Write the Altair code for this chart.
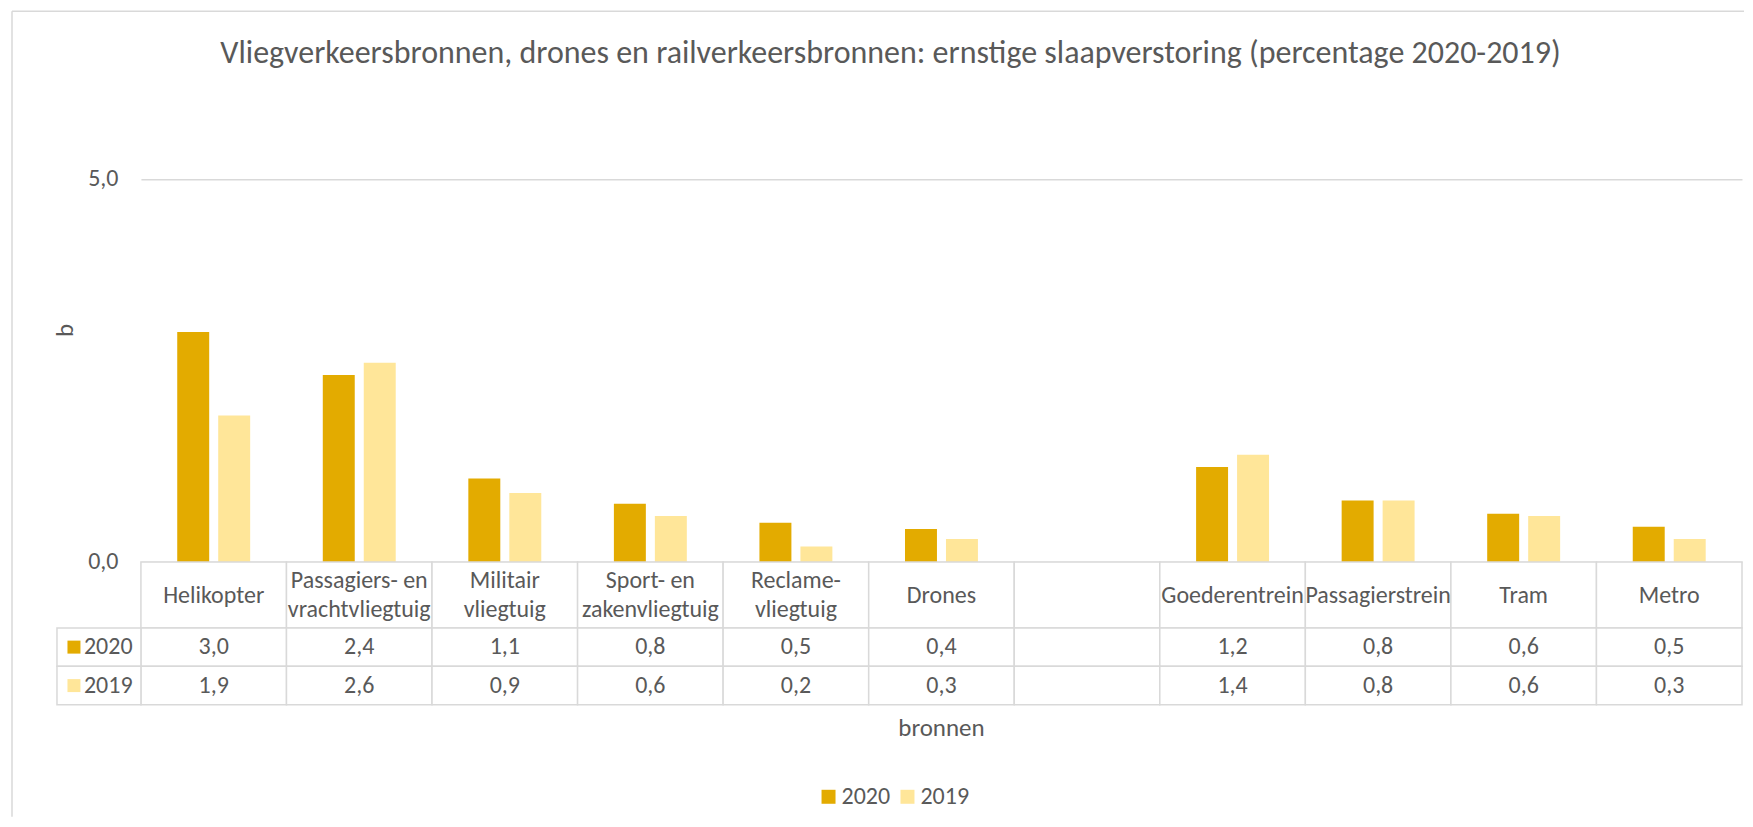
import altair as alt
import pandas as pd

# ---------------- data ----------------
CATEGORIES = ["Helikopter", "Passagiers- en\nvrachtvliegtuig", "Militair\nvliegtuig",
              "Sport- en\nzakenvliegtuig", "Reclame-\nvliegtuig", "Drones", " ",
              "Goederentrein", "Passagierstrein", "Tram", "Metro"]
YEARS = ["2020", "2019"]
VALUES_2020 = [3.0, 2.44, 1.09, 0.76, 0.51, 0.43, None, 1.24, 0.8, 0.63, 0.46]
VALUES_2019 = [1.91, 2.6, 0.9, 0.6, 0.2, 0.3, None, 1.4, 0.8, 0.6, 0.3]
COLORS = ["#E3AB00", "#FFE699"]
TITLE = "Vliegverkeersbronnen, drones en railverkeersbronnen: ernstige slaapverstoring (percentage 2020-2019)"
Y_TITLE = "b"
X_TITLE = "bronnen"
Y_TICKS = [0, 5]
Y_DOMAIN = [0, 6]

# ---------------- style ----------------
FONT = "Calibri, Carlito, Lato, sans-serif"
TXT = "#595959"
GRID = "#d9d9d9"
FS = 24
W = 1602
H_BARS = 460
H_HEAD = 66
H_ROWS = 77
LINE_H = 29

rows = []
for yr, vals in zip(YEARS, [VALUES_2020, VALUES_2019]):
    for c, v in zip(CATEGORIES, vals):
        rows.append({"category": c, "year": yr, "value": v})
df = pd.DataFrame(rows)
df_bars = df.dropna(subset=["value"])
cat_df = pd.DataFrame({"category": CATEGORIES})
year_df = pd.DataFrame({"year": YEARS})
one = pd.DataFrame({"t": [TITLE], "x": [X_TITLE]})

x_scale = alt.Scale(domain=CATEGORIES, paddingInner=0, paddingOuter=0)
color_scale = alt.Scale(domain=YEARS, range=COLORS)
x_enc = alt.X("category:N", scale=x_scale, axis=None, sort=CATEGORIES)

# ---------------- bars ----------------
bars = alt.Chart(df_bars).mark_bar().encode(
    x=x_enc,
    xOffset=alt.XOffset("year:N", sort=YEARS,
                        scale=alt.Scale(domain=YEARS, paddingInner=0.22, paddingOuter=0.886)),
    y=alt.Y("value:Q", scale=alt.Scale(domain=Y_DOMAIN),
            axis=alt.Axis(values=Y_TICKS, domain=False, ticks=False, grid=True,
                          gridColor=GRID, gridWidth=1.5,
                          labelExpr="replace(format(datum.value, '.1f'), '.', ',')",
                          labelFontSize=FS, labelColor=TXT, labelPadding=23, labelFont=FONT,
                          title=Y_TITLE, titleFontSize=25, titleColor=TXT, titleFont=FONT,
                          titleFontWeight="normal", titleX=-76, titleY=H_BARS / 2 - 2,
                          titleAlign="center", titleBaseline="middle", titleAngle=270)),
    color=alt.Color("year:N", scale=color_scale, sort=YEARS,
                    legend=alt.Legend(title=None, orient="none", direction="horizontal",
                                      legendX=676, legendY=683, symbolType="square",
                                      symbolSize=196, symbolStrokeWidth=0,
                                      labelFontSize=FS, labelColor=TXT, labelFont=FONT,
                                      labelOffset=1, columnPadding=5)),
)

title_mark = alt.Chart(one).mark_text(fontSize=32, color=TXT, font=FONT, align="center",
                                      baseline="middle").encode(
    text="t:N", x=alt.value(750), y=alt.value(-49))

frame_top = alt.Chart(one).mark_rule(color=GRID, strokeWidth=1.5).encode(
    x=alt.value(-129), x2=alt.value(1604), y=alt.value(-91))
frame_left = alt.Chart(one).mark_rule(color=GRID, strokeWidth=1.5).encode(
    x=alt.value(-129), y=alt.value(-91), y2=alt.value(715))

top = alt.layer(frame_top, frame_left, bars, title_mark).properties(width=W, height=H_BARS)

# ---------------- table header ----------------
head_rect = alt.Chart(cat_df).mark_rect(fill="white", stroke=GRID, strokeWidth=1.5).encode(
    x=x_enc, y=alt.value(0), y2=alt.value(H_HEAD))
head_text1 = alt.Chart(cat_df).transform_filter(
    "indexof(datum.category, '\\n') < 0"
).mark_text(fontSize=FS, color=TXT, font=FONT, baseline="middle").encode(
    x=x_enc, y=alt.value(H_HEAD / 2 + 1), text="category:N")
head_text2 = alt.Chart(cat_df).transform_filter(
    "indexof(datum.category, '\\n') >= 0"
).mark_text(fontSize=FS, color=TXT, font=FONT, lineBreak="\n", lineHeight=LINE_H,
            baseline="middle").encode(
    x=x_enc, y=alt.value(H_HEAD / 2 + 1 - LINE_H / 2), text="category:N")
head = alt.layer(head_rect, head_text1, head_text2).properties(width=W, height=H_HEAD)

# ---------------- table rows ----------------
y_rows = alt.Y("year:N", scale=alt.Scale(domain=YEARS, paddingInner=0, paddingOuter=0),
               axis=None, sort=YEARS)
cell_df = pd.DataFrame([{"category": c, "year": y} for y in YEARS for c in CATEGORIES])
cells = alt.Chart(cell_df).mark_rect(fill="white", stroke=GRID, strokeWidth=1.5).encode(
    x=x_enc, y=y_rows)
cell_text = alt.Chart(df_bars).transform_calculate(
    lbl="replace(format(datum.value, '.1f'), '.', ',')"
).mark_text(fontSize=FS, color=TXT, font=FONT, baseline="middle").encode(
    x=x_enc, y=y_rows, text="lbl:N")
leg_cells = alt.Chart(year_df).mark_rect(fill="white", stroke=GRID, strokeWidth=1.5).encode(
    x=alt.value(-84), x2=alt.value(0), y=y_rows)
leg_sq = alt.Chart(year_df).mark_square(size=169, opacity=1, strokeWidth=0).encode(
    x=alt.value(-67), y=y_rows, color=alt.Color("year:N", scale=color_scale, sort=YEARS))
leg_txt = alt.Chart(year_df).mark_text(fontSize=FS, color=TXT, font=FONT, align="left",
                                       baseline="middle").encode(
    x=alt.value(-57), y=y_rows, text="year:N")
x_title = alt.Chart(one).mark_text(fontSize=25, color=TXT, font=FONT, align="center",
                                   baseline="middle").encode(
    text="x:N", x=alt.value(W / 2), y=alt.value(100))
table = alt.layer(cells, cell_text, leg_cells, leg_sq, leg_txt, x_title).properties(
    width=W, height=H_ROWS)

chart = alt.vconcat(top, head, table, spacing=0, bounds="flush").properties(
    padding={"left": 3, "top": 2, "right": 0, "bottom": 0},
).configure(font=FONT).configure_view(stroke=None)

chart.save("out.html", embed_options={"renderer": "svg", "actions": False})
